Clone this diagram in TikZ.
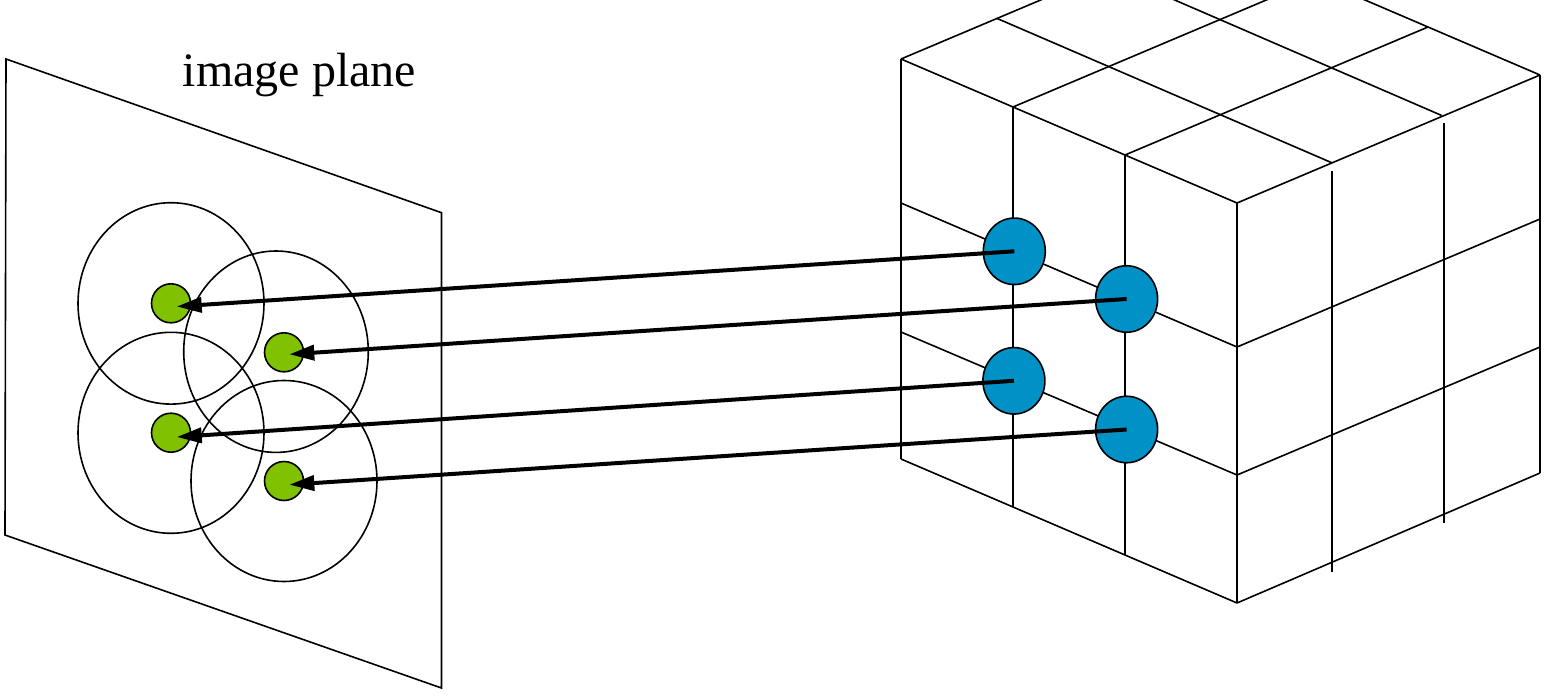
\documentclass[tikz,border=0pt]{standalone}
\usepackage{fontspec}
\setmainfont{Liberation Serif}
\usetikzlibrary{arrows.meta,shapes.geometric}
\definecolor{dotgreen}{RGB}{128,194,0}
\definecolor{dotblue}{RGB}{0,145,199}
\begin{document}
\begin{tikzpicture}[x=1pt,y=-1pt,
  edge/.style={line width=1.6pt},
  ring/.style={line width=1.6pt},
  gdot/.style={circle, draw, fill=dotgreen, line width=1.6pt, minimum size=39pt, inner sep=0pt},
  bdot/.style={ellipse, draw, fill=dotblue, line width=1.6pt, minimum width=62pt, minimum height=66.5pt, inner sep=0pt},
  proj/.style={line width=4pt, -{Triangle[length=25pt,width=15pt]}},
  lbl/.style={inner sep=0pt, anchor=base west, font=\fontsize{48}{56}\selectfont}
]
\useasboundingbox (0,0) rectangle (1554,696);
\clip (0,0) rectangle (1554,696);

% image plane
\draw[edge] (6,59) -- (441.5,212.7) -- (441.5,688) -- (5,535) -- cycle;
\node[lbl] (title) at (182.5,86.7) {image plane};

% receptive fields
\draw[ring] (171,303.4) ellipse [x radius=93, y radius=100.7];
\draw[ring] (276,351.7) ellipse [x radius=92.3, y radius=100.7];
\draw[ring] (171,432.8) ellipse [x radius=93, y radius=100.5];
\draw[ring] (284,481) ellipse [x radius=93, y radius=100.5];

% image points
\node[gdot] (g1) at (171,303.3) {};
\node[gdot] (g2) at (284,352.3) {};
\node[gdot] (g3) at (171,432.7) {};
\node[gdot] (g4) at (284,481) {};

% cube: left face
\draw[edge] (901,59) -- (901,459);
\draw[edge] (901,59) -- (1237,203);
\draw[edge] (901,203) -- (1237,347);
\draw[edge] (901,332) -- (1237,475);
\draw[edge] (901,459) -- (1237,603);
\draw[edge] (1013,107) -- (1013,507);
\draw[edge] (1125,155) -- (1125,555);
\draw[edge] (1237,203) -- (1237,603);
% cube: right face
\draw[edge] (1237,203) -- (1540,75);
\draw[edge] (1237,347) -- (1540,219);
\draw[edge] (1237,475) -- (1540,347);
\draw[edge] (1237,603) -- (1540,473);
\draw[edge] (1540,75) -- (1540,473);
\draw[edge] (1332,171) -- (1332,572);
\draw[edge] (1444,123) -- (1444,523);
% cube: top face
\draw[edge] (901,59) -- (1204,-69);
\draw[edge] (1013,107) -- (1316,-21);
\draw[edge] (1125,155) -- (1428,27);
\draw[edge] (996.7,18.3) -- (1331.7,162.7);
\draw[edge] (1106.7,-29.4) -- (1441.7,115.5);
\draw[edge] (1204,-69) -- (1540,75);

% scene points
\node[bdot] (b1) at (1014.3,251.3) {};
\node[bdot] (b2) at (1126.6,299) {};
\node[bdot] (b3) at (1013.9,380.8) {};
\node[bdot] (b4) at (1126.6,429.5) {};

% projections
\draw[proj] (b1.center) -- ([shift={(5.7,3.2)}]g1.center);
\draw[proj] (b2.center) -- ([shift={(5.3,2)}]g2.center);
\draw[proj] (b3.center) -- ([shift={(5.7,4.3)}]g3.center);
\draw[proj] (b4.center) -- ([shift={(5.3,3.7)}]g4.center);
\end{tikzpicture}
\end{document}
